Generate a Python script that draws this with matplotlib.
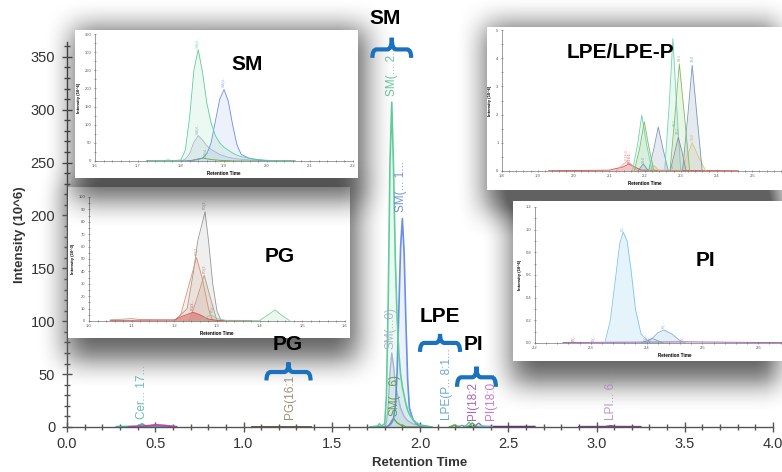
import numpy as np
import matplotlib
matplotlib.use("Agg")
import matplotlib.pyplot as plt
from matplotlib.patches import Rectangle, PathPatch
from matplotlib.path import Path
from matplotlib.ticker import MultipleLocator

plt.rcParams['font.family'] = ['Liberation Sans', 'DejaVu Sans']

W, H = 782, 472

# ---- SM chromatograms (10^6), shared retention-time grid
sm_rt = [1.72, 1.76, 1.77, 1.78, 1.80, 1.81, 1.82, 1.83, 1.84, 1.85, 1.86, 1.87,
         1.88, 1.89, 1.90, 1.91, 1.92, 1.93, 1.94, 1.96, 1.98, 2.00, 2.065]
sm_green = [0, 1, 3, 1, 3, 30, 120, 250, 307, 245, 160, 105, 70, 50, 38, 30, 22, 16, 12, 7, 4, 2, 0]
sm_blue = [0, 0, 0, 0, 0, 0, 1, 2, 4, 8, 20, 50, 110, 170, 197, 165, 100, 45, 18, 7, 3, 1, 0]
sm_lav = [0, 0, 0, 0, 0, 5, 20, 52, 70, 58, 42, 32, 25, 18, 14, 10, 8, 6, 5, 3, 2, 1, 0]
sm_olive = [0, 0, 0, 0, 0, 0, 1, 3, 6, 8, 6, 4, 3, 2, 1, 1, 0, 0, 0, 0, 0, 0, 0]

# ---- PG chromatograms (10^3)
pg_gray_rt = [1.20, 1.23, 1.245, 1.255, 1.272, 1.28, 1.29, 1.30, 1.31]
pg_gray = [0, 10, 40, 65, 88, 65, 30, 8, 0]
pg_salmon_rt = [1.20, 1.215, 1.235, 1.252, 1.265, 1.28, 1.29]
pg_salmon = [0, 5, 30, 51, 35, 10, 0]
pg_brown_rt = [1.235, 1.25, 1.27, 1.285, 1.30]
pg_brown = [0, 15, 37, 18, 0]
pg_red_rt = [1.05, 1.20, 1.22, 1.244, 1.26, 1.28, 1.30, 1.38]
pg_red = [0.5, 0.8, 4, 7, 5, 1.5, 0.5, 0.3]
pg_green_rt = [1.26, 1.285, 1.30, 1.32, 1.40, 1.42, 1.436, 1.45, 1.47]
pg_green = [0, 5, 2, 0.5, 0.5, 5, 9, 5, 0.3]
pg_tan_rt = [1.05, 1.08, 1.10, 1.12, 1.20, 1.38]
pg_tan = [1, 1.5, 2, 1.2, 0.8, 0.4]

# ---- LPE / LPE-P chromatograms (10^6)
lpe_mint_rt = [2.165, 2.18, 2.191, 2.205, 2.22]
lpe_mint = [0, 1.0, 1.98, 0.9, 0]
lpe_green_rt = [2.17, 2.185, 2.198, 2.21, 2.225]
lpe_green = [0, 0.8, 1.75, 0.9, 0]
lpe_slate_rt = [2.21, 2.225, 2.237, 2.25, 2.265]
lpe_slate = [0, 0.8, 1.56, 0.8, 0]
lpe_mint2_rt = [2.255, 2.268, 2.278, 2.288, 2.30]
lpe_mint2 = [0, 2.4, 4.7, 2.4, 0]
lpe_green2_rt = [2.27, 2.284, 2.296, 2.31, 2.325]
lpe_green2 = [0, 2.0, 3.8, 2.0, 0]
lpe_steel_rt = [2.305, 2.32, 2.332, 2.345, 2.36]
lpe_steel = [0, 2.0, 3.75, 2.0, 0]
lpe_mauve_rt = [2.27, 2.282, 2.293, 2.305, 2.315]
lpe_mauve = [0, 0.6, 1.2, 0.6, 0]
lpe_khaki_rt = [2.21, 2.225, 2.24, 2.30, 2.32, 2.332, 2.35, 2.37]
lpe_khaki = [0, 0.2, 0, 0, 0.6, 1.0, 0.5, 0]
lpe_red_rt = [1.93, 2.10, 2.14, 2.155, 2.17, 2.19, 2.30, 2.46]
lpe_red = [0.01, 0.03, 0.15, 0.25, 0.15, 0.03, 0.02, 0.01]
lpe_pink_rt = [2.12, 2.14, 2.15, 2.165, 2.18]
lpe_pink = [0, 0.25, 0.35, 0.2, 0]
lpe_blue_rt = [2.18, 2.195, 2.21]
lpe_blue = [0, 0.25, 0]

# ---- PI chromatograms (10^6)
pi_big_rt = [2.325, 2.335, 2.345, 2.352, 2.358, 2.365, 2.372, 2.38, 2.39, 2.40, 2.41]
pi_big = [0, 0.2, 0.6, 0.88, 0.98, 0.9, 0.65, 0.3, 0.08, 0.03, 0]
pi_small_rt = [2.395, 2.41, 2.42, 2.431, 2.445, 2.46, 2.47]
pi_small = [0, 0.04, 0.09, 0.115, 0.08, 0.02, 0]
pi_teal_rt = [2.39, 2.41, 2.43]
pi_teal = [0, 0.04, 0]
pi_purple_rt = [2.25, 2.30, 2.40, 2.47, 2.60, 2.65]
pi_purple = [0.004, 0.006, 0.008, 0.01, 0.005, 0.003]

# ---- other low traces in the full chromatogram (10^6)
cer_rt = [0.28, 0.40, 0.425, 0.45, 0.62]
cer = [0.3, 0.5, 3.0, 0.5, 0.3]
cer_mag_rt = [0.35, 0.45, 0.50, 0.55, 0.62]
cer_mag = [0.2, 1.0, 2.0, 1.5, 0.2]
pg_main_rt = [1.05, 1.38]
pg_main = [0.4, 0.4]
lpi_rt = [2.90, 3.05, 3.08, 3.11, 3.25]
lpi = [0.2, 0.3, 1.0, 0.3, 0.2]

# peak labels of the full chromatogram: text, rt, base intensity, colour
main_labels = [
    ("SM(... 2...", 1.84, 313, "#4fbf8f"),
    ("SM(... 1...", 1.893, 203, "#5b7fd6"),
    ("SM(...0)", 1.835, 74, "#a3a9c9"),
    ("SM(...6)", 1.855, 10, "#4f9a35"),
    ("Cer... 17...", 0.425, 8, "#4fb3a5"),
    ("PG(16:1", 1.265, 8, "#8a7b55"),
    ("LPE(P... 8:1...", 2.153, 7, "#4f9cc8"),
    ("PI(18:2", 2.30, 7, "#9848a8"),
    ("PI(18:0...", 2.40, 7, "#c060c8"),
    ("LPI... 6...", 3.08, 7, "#b283c4"),
]

# group brackets: label, x0, x1, y line, y ends, y tip, label position
brackets = [
    ("SM", 1.73, 1.95, 357, 349, 368, 1.80, 386),
    ("PG", 1.13, 1.38, 52, 44, 61, 1.25, 78),
    ("LPE", 2.00, 2.227, 79.5, 71, 88, 2.11, 104),
    ("PI", 2.21, 2.43, 47, 38, 57, 2.30, 78),
]

# inset boxes (pixels: left, top, right, bottom)
box_sm = (75, 30, 358, 178)
box_pg = (68, 187, 350, 338)
box_lpe = (487, 27, 795, 190)
box_pi = (513, 201, 795, 361)

C_GREEN, C_BLUE, C_LAV, C_OLIVE = "#5ccf9a", "#6b8ee6", "#aab3d3", "#6aaa3a"


def fig_rect(left, top, right, bottom):
    return [left / W, 1 - bottom / H, (right - left) / W, (bottom - top) / H]


def box_blur(a, r):
    k = 2 * r + 1
    p = np.pad(a, r, mode='constant')
    c = np.cumsum(p, axis=0)
    c = np.vstack([np.zeros((1, c.shape[1])), c])
    p = (c[k:] - c[:-k]) / k
    c = np.cumsum(p, axis=1)
    c = np.hstack([np.zeros((c.shape[0], 1)), c])
    return (c[:, k:] - c[:, :-k]) / k


def shadow_mask(box, r=15):
    m = np.zeros((H, W))
    l, t, rr, b = box
    m[max(t - 2, 0):min(b + 22, H), max(l - 2, 0):min(rr + 8, W)] = 1.0
    return box_blur(box_blur(m, r), r)


def shadow_layer(masks, z):
    img = np.zeros((H, W, 4))
    img[..., 3] = np.clip(sum(masks), 0, 1) * 0.62
    sax = fig.add_axes([0, 0, 1, 1], zorder=z)
    sax.imshow(img, extent=(0, W, H, 0), aspect='auto', interpolation='bilinear')
    sax.set_xlim(0, W)
    sax.set_ylim(H, 0)
    sax.axis('off')


def make_inset(box, inner, xlim, ylim, xticks, ymaj, ylabel, z):
    fig.add_artist(Rectangle((box[0] / W, 1 - box[3] / H), (box[2] - box[0]) / W,
                             (box[3] - box[1]) / H, transform=fig.transFigure,
                             facecolor='white', edgecolor='none', zorder=z))
    ia = fig.add_axes(fig_rect(*inner), zorder=z + 0.5)
    ia.patch.set_alpha(0)
    ia.set_xlim(*xlim)
    ia.set_ylim(*ylim)
    ia.set_xticks(xticks)
    ia.set_xticklabels([f"{v:.1f}" for v in xticks])
    ia.xaxis.set_minor_locator(MultipleLocator(0.02))
    ia.yaxis.set_major_locator(MultipleLocator(ymaj))
    ia.yaxis.set_minor_locator(MultipleLocator(ymaj / 2))
    for s in ['top', 'right']:
        ia.spines[s].set_visible(False)
    for s in ['left', 'bottom']:
        ia.spines[s].set_linewidth(0.5)
        ia.spines[s].set_color('#777777')
    ia.tick_params(which='both', direction='inout', labelsize=3, length=2, width=0.4,
                   colors='#555555', pad=1.5)
    ia.tick_params(which='minor', length=1.2)
    ia.set_xlabel('Retention Time', fontsize=3.3, fontweight='bold', labelpad=1.5)
    ia.set_ylabel(ylabel, fontsize=3, fontweight='bold', labelpad=3)
    return ia


def trace(a, x, y, color, lw=0.6, fill=0.15):
    a.plot(x, y, color=color, lw=lw)
    if fill:
        a.fill_between(x, y, color=color, alpha=fill, lw=0)


def tiny_label(a, text, x, y, color):
    a.text(x, y, text, rotation=90, ha='center', va='bottom', fontsize=2.6,
           color=color, alpha=0.8)


fig = plt.figure(figsize=(W / 100, H / 100), dpi=100)
fig.patch.set_facecolor('white')

# shadows under the main plot
shadow_layer([shadow_mask(box_pg), shadow_mask(box_lpe), shadow_mask(box_pi)], 0)

# ---- main chromatogram
ax = fig.add_axes(fig_rect(67, 42, 773, 427), zorder=1)
ax.patch.set_alpha(0)
ax.set_xlim(0, 4.0)
ax.set_ylim(0, 364)

for x, y, c in [(cer_rt, cer, "#3fb9a6"), (cer_mag_rt, cer_mag, "#c040b0"),
                (pg_main_rt, pg_main, "#6b4a2a"), (lpi_rt, lpi, "#7a3a8a"),
                (pi_purple_rt, [v + 0.3 for v in pi_purple], "#6a2a80")]:
    ax.plot(x, y, color=c, lw=1.3)
for x, y, c in [(lpe_mint_rt, lpe_mint, C_GREEN), (lpe_green_rt, lpe_green, C_OLIVE),
                (lpe_slate_rt, lpe_slate, "#7a9ab8"), (lpe_mint2_rt, lpe_mint2, C_GREEN),
                (lpe_green2_rt, lpe_green2, C_OLIVE), (lpe_steel_rt, lpe_steel, "#6a8fb0"),
                (pi_big_rt, pi_big, "#7fc4ec")]:
    ax.plot(x, y, color=c, lw=1.0)
trace(ax, sm_rt, sm_lav, C_LAV, lw=1.0, fill=0.25)
trace(ax, sm_rt, sm_olive, C_OLIVE, lw=1.0, fill=0)
trace(ax, sm_rt, sm_blue, C_BLUE, lw=1.2, fill=0.12)
trace(ax, sm_rt, sm_green, C_GREEN, lw=1.2, fill=0.12)

for text, x, y, c in main_labels:
    ax.text(x, y, text, rotation=90, ha='center', va='bottom', fontsize=8.5,
            color=c, alpha=0.85)

ax.set_yticks(range(0, 351, 50))
ax.yaxis.set_minor_locator(MultipleLocator(10))
ax.set_xticks(np.arange(0, 4.01, 0.5))
ax.set_xticklabels([f"{v:.1f}" for v in np.arange(0, 4.01, 0.5)])
ax.xaxis.set_minor_locator(MultipleLocator(0.1))
for s in ['top', 'right']:
    ax.spines[s].set_visible(False)
for s in ['left', 'bottom']:
    ax.spines[s].set_color('#555555')
    ax.spines[s].set_linewidth(1.0)
ax.tick_params(which='both', direction='inout', colors='#555555', labelcolor='#333333',
               labelsize=10.5, width=1.0)
ax.tick_params(which='major', length=7)
ax.tick_params(which='minor', length=5)
ax.tick_params(axis='y', pad=5)
ax.tick_params(axis='x', pad=4)
ax.set_xlabel('Retention Time', fontsize=9.5, fontweight='bold', color='#333333', labelpad=4)
ax.set_ylabel('Intensity (10^6)', fontsize=9.5, fontweight='bold', color='#333333', labelpad=3)

# ---- PG inset
ia = make_inset(box_pg, (89, 197, 345, 321), (1.0, 1.6), (0, 100),
                np.arange(1.0, 1.61, 0.1), 10, 'Intensity (10^3)', 2)
trace(ia, pg_tan_rt, pg_tan, "#c9a88a", fill=0)
trace(ia, pg_gray_rt, pg_gray, "#9a9a9a", fill=0.15)
trace(ia, pg_salmon_rt, pg_salmon, "#e0906a", fill=0.15)
trace(ia, pg_brown_rt, pg_brown, "#b89a8a", fill=0.2)
trace(ia, pg_red_rt, pg_red, "#e04848", fill=0.45)
trace(ia, pg_green_rt, pg_green, "#7fd0a0", fill=0.15)
tiny_label(ia, "PG(3...", 1.272, 90, "#888888")
tiny_label(ia, "PG(3...", 1.252, 53, "#d08060")
tiny_label(ia, "PG(3...", 1.27, 39, "#a08070")
tiny_label(ia, "PG(3...", 1.244, 9, "#e03030")
tiny_label(ia, "PG(...", 1.29, 7, "#60b080")
fig.text(280 / W, 1 - 257 / H, 'PG', fontsize=15, fontweight='bold', ha='center',
         va='center', zorder=2.6)

# SM shadow falls over the PG inset
shadow_layer([shadow_mask(box_sm)], 3)

# ---- SM inset
ia = make_inset(box_sm, (95, 34, 353, 161), (1.6, 2.2), (0, 350),
                np.arange(1.6, 2.21, 0.1), 50, 'Intensity (10^6)', 4)
trace(ia, sm_rt, sm_lav, C_LAV, fill=0.2)
trace(ia, sm_rt, sm_olive, C_OLIVE, fill=0)
trace(ia, sm_rt, sm_blue, C_BLUE, fill=0.12)
trace(ia, sm_rt, sm_green, C_GREEN, fill=0.12)
tiny_label(ia, "SM(d...", 1.84, 312, C_GREEN)
tiny_label(ia, "SM(d...", 1.90, 203, C_BLUE)
tiny_label(ia, "SM(d...", 1.84, 74, "#8a94b8")
tiny_label(ia, "SM(d...", 1.857, 10, C_OLIVE)
fig.text(247 / W, 1 - 65 / H, 'SM', fontsize=15, fontweight='bold', ha='center',
         va='center', zorder=4.6)

# ---- LPE / LPE-P inset
ia = make_inset(box_lpe, (502, 30, 788, 171), (1.8, 2.6), (0, 5),
                np.arange(1.8, 2.51, 0.1), 1, 'Intensity (10^6)', 6)
trace(ia, lpe_red_rt, lpe_red, "#e04848", fill=0.3)
trace(ia, lpe_pink_rt, lpe_pink, "#f0a0a0", fill=0.1)
trace(ia, lpe_blue_rt, lpe_blue, "#6a8fc0", fill=0.2)
trace(ia, lpe_khaki_rt, lpe_khaki, "#d8c870", fill=0.2)
trace(ia, lpe_slate_rt, lpe_slate, "#7a9ab8", fill=0.2)
trace(ia, lpe_mint_rt, lpe_mint, "#6fd4b0", fill=0.15)
trace(ia, lpe_green_rt, lpe_green, "#7fbf60", fill=0.15)
trace(ia, lpe_steel_rt, lpe_steel, "#7a9ab8", fill=0.2)
trace(ia, lpe_mint2_rt, lpe_mint2, "#6fd4b0", fill=0.15)
trace(ia, lpe_green2_rt, lpe_green2, "#7fbf60", fill=0.15)
trace(ia, lpe_mauve_rt, lpe_mauve, "#9a8aa0", fill=0.2)
tiny_label(ia, "P-18:0...", 2.148, 0.4, "#e07070")
tiny_label(ia, "P-18:1...", 2.158, 0.3, "#e02020")
tiny_label(ia, "18:0", 2.197, 0.3, "#6a8fc0")
tiny_label(ia, "18:1", 2.282, 1.6, "#60b080")
tiny_label(ia, "18:1", 2.296, 3.9, "#60a040")
tiny_label(ia, "18:0", 2.333, 3.85, "#6a8fb0")
tiny_label(ia, "18:1", 2.293, 1.3, "#8a7a90")
tiny_label(ia, "18:0", 2.333, 1.1, "#c0b050")
tiny_label(ia, "20:...", 2.278, 0.1, "#60b080")
fig.text(620 / W, 1 - 53 / H, 'LPE/LPE-P', fontsize=15, fontweight='bold', ha='center',
         va='center', zorder=6.6)

# ---- PI inset
ia = make_inset(box_pi, (535, 207, 814, 343), (2.2, 2.7), (0, 1.2),
                np.arange(2.2, 2.61, 0.1), 0.2, 'Intensity (10^6)', 8)
trace(ia, pi_purple_rt, pi_purple, "#9a50b0", fill=0)
trace(ia, pi_teal_rt, pi_teal, "#60b0a0", fill=0.1)
trace(ia, pi_big_rt, pi_big, "#7fc4ec", fill=0.2)
trace(ia, pi_small_rt, pi_small, "#7fb0dc", fill=0.2)
tiny_label(ia, "PI(...", 2.27, 0.02, "#e02020")
tiny_label(ia, "PI(...", 2.305, 0.02, "#a060b0")
tiny_label(ia, "PI(...", 2.398, 0.02, "#c060c8")
tiny_label(ia, "PI(...", 2.408, 0.02, "#c060c8")
tiny_label(ia, "PI(...", 2.358, 0.99, "#6aa8d8")
tiny_label(ia, "PI(...", 2.431, 0.13, "#6a90c0")
tiny_label(ia, "PI(...", 2.465, 0.02, "#c060c8")
fig.text(705 / W, 1 - 260 / H, 'PI', fontsize=15, fontweight='bold', ha='center',
         va='center', zorder=8.6)

# ---- group brackets on top of everything
ann = fig.add_axes(fig_rect(67, 42, 773, 427), zorder=10)
ann.set_xlim(0, 4.0)
ann.set_ylim(0, 364)
ann.axis('off')
rx = 0.025
for name, x0, x1, y, yend, ytip, tx, ty in brackets:
    xm = (x0 + x1) / 2
    verts = [(x0, yend), (x0, y), (x0 + rx, y), (xm - rx, y), (xm, y), (xm, ytip),
             (xm, y), (xm + rx, y), (x1 - rx, y), (x1, y), (x1, yend)]
    codes = [Path.MOVETO, Path.CURVE3, Path.CURVE3, Path.LINETO, Path.CURVE3, Path.CURVE3,
             Path.CURVE3, Path.CURVE3, Path.LINETO, Path.CURVE3, Path.CURVE3]
    ann.add_patch(PathPatch(Path(verts, codes), facecolor='none', edgecolor='#1a72bf',
                            lw=3, clip_on=False))
    ann.text(tx, ty, name, fontsize=15, fontweight='bold', ha='center', va='center',
             clip_on=False)

fig.savefig('out.png', dpi=100, facecolor='white')
